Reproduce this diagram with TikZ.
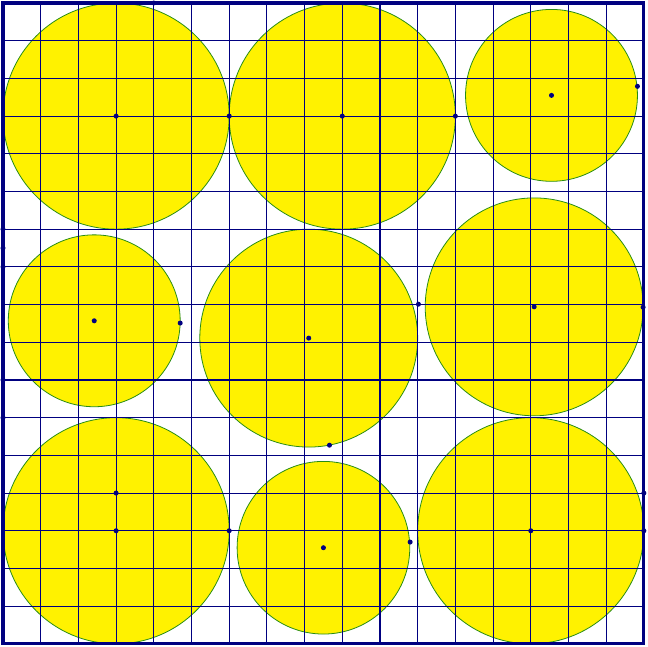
\documentclass[tikz,border=0pt]{standalone}
\usepackage{tikz}

\definecolor{navy}{RGB}{0,0,128}
\definecolor{rimgreen}{RGB}{40,140,20}

\begin{document}
\begin{tikzpicture}[
  disc/.style={fill=yellow, draw=rimgreen, line width=0.6pt},
  gridline/.style={draw=navy, line width=0.8pt},
  frame/.style={draw=navy, line width=2.3pt},
  pt/.style={fill=navy}
]
\useasboundingbox (-0.08,-0.08) rectangle (17.11,17.08);

% discs
\foreach \x/\y/\r in {3/14/3, 9/14/3, 14.55/14.55/2.28,
                      2.42/8.57/2.28, 8.11/8.11/2.89, 14.09/8.94/2.89,
                      3/3/3, 8.50/2.55/2.29, 14/3/3}
  \path[disc] (\x,\y) circle (\r);

% grid and frame
\draw[gridline] (0,0) grid (17,17);
\draw[frame] (0,0) rectangle (17,17);

% points
\foreach \x/\y in {3/14, 9/14, 14.55/14.55, 2.42/8.57, 8.11/8.11, 14.09/8.94,
                   3/3, 8.50/2.55, 14/3,
                   6/14, 12/14, 16.83/14.79, 4.70/8.51, 8.66/5.27, 11.02/9.01,
                   16.98/8.93, 3/4, 6/3, 10.80/2.70, 17/3, 17/4, 4/17,
                   0/11, 0/10.5, 0/10, 0/7, 0/6}
  \fill[pt] (\x,\y) circle (1.9pt);
\end{tikzpicture}
\end{document}
